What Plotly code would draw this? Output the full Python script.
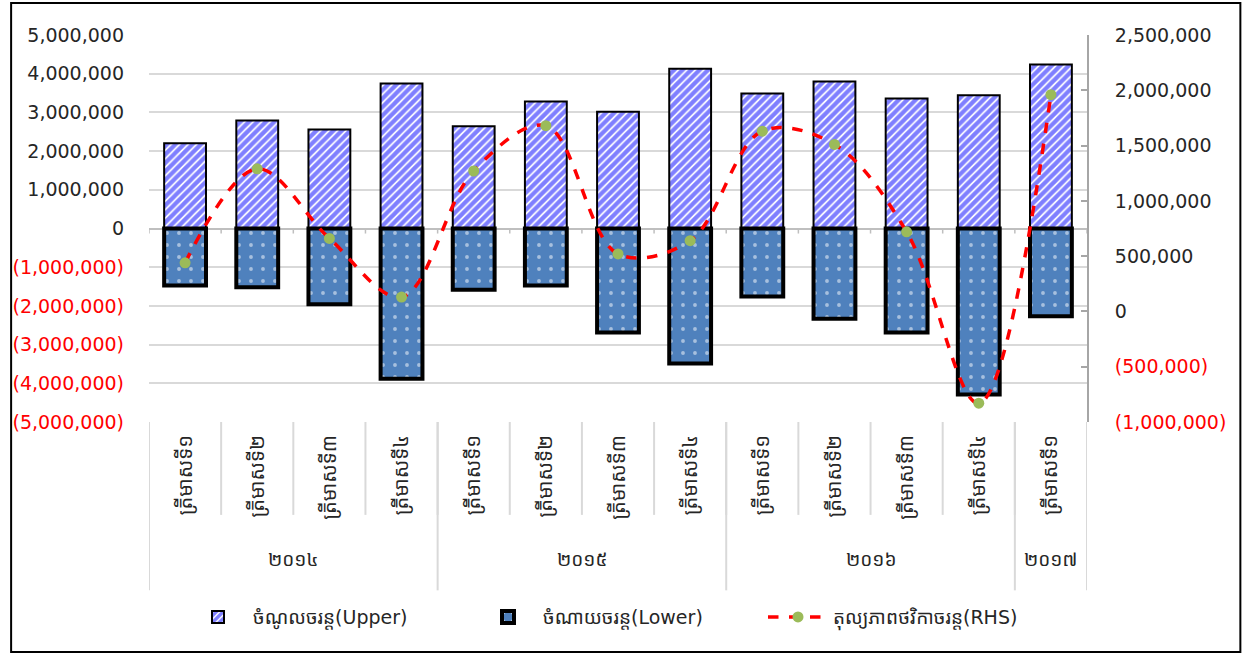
import plotly.graph_objects as go

# ---------------- data ----------------
quarters = ["ត្រីមាសទី១", "ត្រីមាសទី២", "ត្រីមាសទី៣", "ត្រីមាសទី៤",
            "ត្រីមាសទី១", "ត្រីមាសទី២", "ត្រីមាសទី៣", "ត្រីមាសទី៤",
            "ត្រីមាសទី១", "ត្រីមាសទី២", "ត្រីមាសទី៣", "ត្រីមាសទី៤",
            "ត្រីមាសទី១"]
years = ["២០១៤", "២០១៥", "២០១៦", "២០១៧"]
year_counts = [4, 4, 4, 1]

revenue = [2200000, 2790000, 2560000, 3750000, 2640000, 3280000, 3020000,
           4130000, 3490000, 3800000, 3360000, 3440000, 4240000]
expenditure = [-1470000, -1520000, -1960000, -3880000, -1580000, -1470000, -2690000,
               -3490000, -1760000, -2330000, -2690000, -4290000, -2270000]
balance = [440000, 1290000, 660000, 130000, 1270000, 1680000, 520000,
           640000, 1630000, 1510000, 720000, -830000, 1960000]

left_ticks = [5000000, 4000000, 3000000, 2000000, 1000000, 0,
              -1000000, -2000000, -3000000, -4000000, -5000000]
right_ticks = [2500000, 2000000, 1500000, 1000000, 500000, 0, -500000, -1000000]

names = ["ចំណូលចរន្ត(Upper)", "ចំណាយចរន្ត(Lower)", "តុល្យភាពថវិកាចរន្ត(RHS)"]

# ---------------- helpers ----------------
def fmt(v):
    s = f"{abs(v):,.0f}"
    if v < 0:
        return f'<span style="color:#FF0000">({s})</span>'
    return s

FONT = "DejaVu Sans, Noto Sans Khmer, Khmer OS, Noto Sans"
x = list(range(len(quarters)))

fig = go.Figure()
fig.add_trace(go.Bar(
    x=x, y=revenue, name=names[0], width=0.58,
    marker=dict(color="#0000FF",
                line=dict(color="black", width=2),
                pattern=dict(shape="/", fgcolor="#0000FF", bgcolor="white",
                             size=6, solidity=0.7, fillmode="overlay")),
))
fig.add_trace(go.Bar(
    x=x, y=expenditure, name=names[1], width=0.58,
    marker=dict(color="#4F81BD",
                line=dict(color="black", width=4),
                pattern=dict(shape=".", fgcolor="white", bgcolor="#4F81BD",
                             size=12, solidity=0.08, fillmode="overlay")),
))
fig.add_trace(go.Scatter(
    x=x, y=balance, name=names[2], yaxis="y2", mode="lines+markers",
    line=dict(color="#FF0000", width=3.5, dash="dash", shape="spline", smoothing=1.0),
    marker=dict(color="#9BBB59", size=11),
))

# ---------------- decorations for the category table ----------------
shapes = []
n = len(quarters)
for i in range(n + 1):
    shapes.append(dict(type="line", xref="x", yref="paper",
                       x0=i - 0.5, x1=i - 0.5, y0=0, y1=-0.24,
                       line=dict(color="#D9D9D9", width=2)))
start = 0
bounds = [0]
for c in year_counts:
    start += c
    bounds.append(start)
for b in bounds:
    shapes.append(dict(type="line", xref="x", yref="paper",
                       x0=b - 0.5, x1=b - 0.5, y0=0, y1=-0.435,
                       line=dict(color="#D9D9D9", width=2)))
for i in range(n + 1):
    shapes.append(dict(type="line", xref="x", yref="y",
                       x0=i - 0.5, x1=i - 0.5, y0=0, y1=-130000,
                       line=dict(color="#BFBFBF", width=1.5)))
shapes.append(dict(type="rect", xref="paper", yref="paper",
                   x0=-0.147, x1=1.1635, y0=-0.594, y1=1.083,
                   line=dict(color="black", width=2), layer="below"))

annotations = []
for k, yl in enumerate(years):
    a, b = bounds[k], bounds[k + 1]
    annotations.append(dict(x=(a + b - 1) / 2, y=-0.388, xref="x", yref="paper",
                            text=yl, showarrow=False,
                            font=dict(size=19, color="#262626", family=FONT)))

fig.update_layout(
    width=1248, height=654,
    margin=dict(l=145, r=161, t=35, b=232),
    paper_bgcolor="white", plot_bgcolor="white",
    barmode="relative",
    font=dict(family=FONT, size=19, color="#262626"),
    showlegend=True,
    legend=dict(orientation="h", x=0.5, xanchor="center", y=-0.455, yanchor="top",
                font=dict(size=19, color="#262626"), itemwidth=60,
                entrywidth=215, traceorder="normal"),
    xaxis=dict(range=[-0.5, n - 0.5], tickmode="array", tickvals=x, ticktext=quarters,
               tickangle=-90, showgrid=False, zeroline=False, showline=False,
               ticks="", tickfont=dict(size=20, color="#262626"),
               ticklabelstandoff=8),
    yaxis=dict(range=[-5000000, 5000000], tickmode="array", tickvals=left_ticks,
               ticktext=[fmt(v) for v in left_ticks],
               showgrid=True, gridcolor="#D9D9D9", gridwidth=2,
               zeroline=True, zerolinecolor="#BFBFBF", zerolinewidth=2,
               showline=False, ticks="", ticklabelstandoff=24),
    yaxis2=dict(range=[-1000000, 2500000], overlaying="y", side="right",
                tickmode="array", tickvals=right_ticks,
                ticktext=[fmt(v) for v in right_ticks],
                showgrid=False, zeroline=False, showline=True,
                linecolor="#A6A6A6", linewidth=2,
                ticks="inside", ticklen=6, tickcolor="#A6A6A6", tickwidth=2,
                ticklabelstandoff=22),
    shapes=shapes,
    annotations=annotations,
)

fig.write_html("out.html", config={"displayModeBar": False},
               post_script="document.body.style.margin='0';")
